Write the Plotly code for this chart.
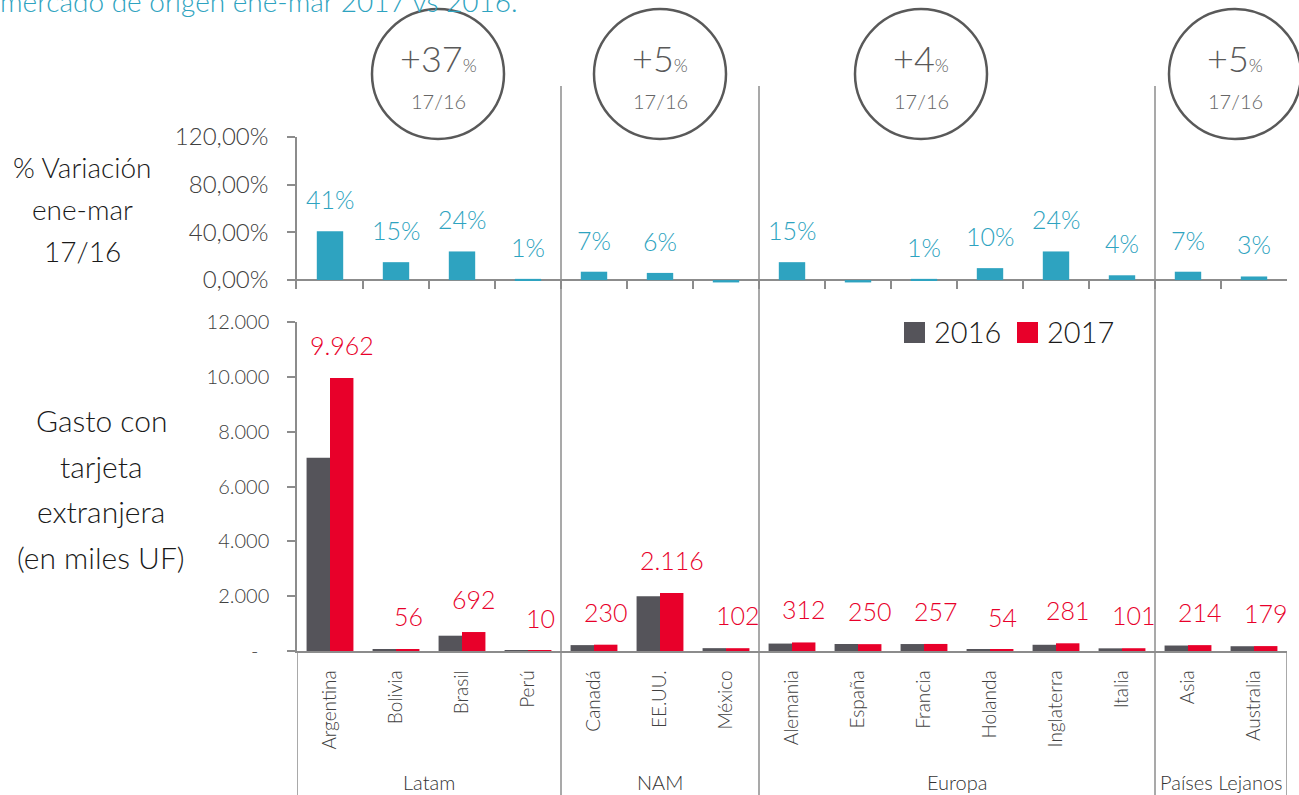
import plotly.graph_objects as go

# ---------- data ----------
countries = ["Argentina", "Bolivia", "Brasil", "Perú", "Canadá", "EE.UU.", "México",
             "Alemania", "España", "Francia", "Holanda", "Inglaterra", "Italia",
             "Asia", "Australia"]
regions = ["Latam", "NAM", "Europa", "Países Lejanos"]
region_sizes = [4, 3, 6, 2]
region_growth = ["+37", "+5", "+4", "+5"]

variacion = [41, 15, 24, 1, 7, 6, -2, 15, -2, 1, 10, 24, 4, 7, 3]
variacion_labels = ["41%", "15%", "24%", "1%", "7%", "6%", "", "15%", "", "1%",
                    "10%", "24%", "4%", "7%", "3%"]

gasto_2016 = [7050, 49, 558, 10, 215, 1996, 104, 271, 255, 254, 49, 227, 97, 200, 174]
gasto_2017 = [9962, 56, 692, 10, 230, 2116, 102, 312, 250, 257, 54, 281, 101, 214, 179]
gasto_2017_labels = ["9.962", "56", "692", "10", "230", "2.116", "102", "312", "250",
                     "257", "54", "281", "101", "214", "179"]

pct_ticks = [0, 40, 80, 120]
pct_ticktext = ["0,00%", "40,00%", "80,00%", "120,00%"]
gasto_ticks = [0, 2000, 4000, 6000, 8000, 10000, 12000]
gasto_ticktext = ["-\u00a0\u00a0", "2.000", "4.000", "6.000", "8.000", "10.000", "12.000"]

# ---------- styling ----------
W, H = 1299, 795
FONT = "Lato"
TEAL = "#2EA3C0"
RED = "#E8002A"
DARK = "#55545A"
AXIS = "#8C8C8C"
CIRCLE = "#595959"


def px(x):
    return x / W


def py(y):
    return 1 - y / H


def text_at(x, y, text, size, color, weight=300, **kw):
    """Free text placed in figure pixels (top-left origin)."""
    fig.add_annotation(x=px(x), y=py(y), xref="paper", yref="paper", text=text,
                       showarrow=False, xanchor=kw.pop("xanchor", "center"),
                       yanchor="middle",
                       font=dict(family=FONT, size=size, color=color, weight=weight), **kw)


fig = go.Figure()

fig.add_trace(go.Bar(x=countries, y=variacion, xaxis="x", yaxis="y", width=0.4,
                     marker=dict(color=TEAL, line_width=0), showlegend=False))
fig.add_trace(go.Bar(x=countries, y=gasto_2016, xaxis="x2", yaxis="y2", name="2016",
                     marker=dict(color=DARK, line_width=0), showlegend=False))
fig.add_trace(go.Bar(x=countries, y=gasto_2017, xaxis="x2", yaxis="y2", name="2017",
                     marker=dict(color=RED, line_width=0), showlegend=False))

xdom = [px(297), px(1287)]

fig.update_layout(
    width=W, height=H,
    margin=dict(l=0, r=0, t=0, b=0, autoexpand=False),
    paper_bgcolor="white", plot_bgcolor="white",
    barmode="group", bargap=0.29, bargroupgap=0,
    font=dict(family=FONT, color="#404040"),
    xaxis=dict(domain=xdom, anchor="y", type="category", categoryorder="array",
               categoryarray=countries, range=[-0.5, 14.5], tickson="boundaries",
               ticks="inside", ticklen=9, tickwidth=1.5, tickcolor=AXIS,
               showticklabels=False, showline=False, showgrid=False, zeroline=False,
               automargin=False),
    yaxis=dict(domain=[py(289), py(137)], anchor="x", range=[-7.5, 120],
               tickvals=pct_ticks, ticktext=pct_ticktext, ticks="outside", ticklen=8,
               tickwidth=1.5, tickcolor=AXIS, showline=True, linecolor=AXIS,
               linewidth=1.5, zeroline=True, zerolinecolor=AXIS, zerolinewidth=1.5,
               showgrid=False, ticklabelstandoff=14, automargin=False,
               tickfont=dict(family=FONT, size=24, color="#404040", weight=300)),
    xaxis2=dict(domain=xdom, anchor="y2", type="category", categoryorder="array",
                categoryarray=countries, range=[-0.5, 14.5], ticks="",
                showline=True, linecolor=AXIS, linewidth=1.5, showgrid=False,
                zeroline=False, tickangle=-90, ticklabelstandoff=10, automargin=False,
                tickfont=dict(family=FONT, size=19, color="#404040", weight=300)),
    yaxis2=dict(domain=[py(651), py(322)], anchor="x2", range=[0, 12000],
                tickvals=gasto_ticks, ticktext=gasto_ticktext, ticks="outside",
                ticklen=8, tickwidth=1.5, tickcolor=AXIS, showline=True,
                linecolor=AXIS, linewidth=1.5, zeroline=False, showgrid=False,
                ticklabelstandoff=14, automargin=False,
                tickfont=dict(family=FONT, size=20, color="#404040", weight=300)),
)

# data labels
for c, v, lab in zip(countries, variacion, variacion_labels):
    if lab:
        fig.add_annotation(x=c, y=v, xref="x", yref="y", text=lab, showarrow=False,
                           xanchor="center", yanchor="middle", yshift=32,
                           font=dict(family=FONT, size=25, color=TEAL, weight=300))
for c, v, lab in zip(countries, gasto_2017, gasto_2017_labels):
    fig.add_annotation(x=c, y=v, xref="x2", yref="y2", text=lab, showarrow=False,
                       xanchor="center", yanchor="middle", yshift=33, xshift=12,
                       font=dict(family=FONT, size=25, color=RED, weight=300))

# region separators and labels
start = 0
bounds = [-0.5]
for name, n in zip(regions, region_sizes):
    mid = start + (n - 1) / 2
    fig.add_annotation(x=mid, y=py(782), xref="x2", yref="paper", text=name,
                       showarrow=False, xanchor="center", yanchor="middle",
                       font=dict(family=FONT, size=20, color="#333333", weight=300))
    start += n
    bounds.append(start - 0.5)
for b in bounds:
    top = py(651) if b in (bounds[0], bounds[-1]) else py(86)
    fig.add_shape(type="line", xref="x2", yref="paper", x0=b, x1=b, y0=0, y1=top,
                  line=dict(color=AXIS, width=1.5))

# growth circles
circle_cx = [438, 660, 921, 1235]
for cx, g in zip(circle_cx, region_growth):
    fig.add_shape(type="circle", xref="paper", yref="paper",
                  x0=px(cx - 66), x1=px(cx + 66), y0=py(139), y1=py(9),
                  line=dict(color=CIRCLE, width=2.5))
    text_at(cx, 58, f"{g}<span style='font-size:18px'>%</span>", 36, CIRCLE)
    text_at(cx, 101, "17/16", 20, "#666666")

# legend
for x0, name, col in [(904, "2016", DARK), (1017, "2017", RED)]:
    fig.add_shape(type="rect", xref="paper", yref="paper", x0=px(x0), x1=px(x0 + 21),
                  y0=py(343), y1=py(322), fillcolor=col, line_width=0)
    text_at(x0 + 28, 331, name, 29, "#1A1A1A", xanchor="left")

# side titles
for i, line in enumerate(["% Variación", "ene-mar", "17/16"]):
    text_at(82, 167 + 42 * i, line, 28, "#1A1A1A")
for i, line in enumerate(["Gasto con", "tarjeta", "extranjera", "(en miles UF)"]):
    text_at(101, 420 + 45.5 * i, line, 30, "#1A1A1A")

# title, cut off by the top edge like in the source image
text_at(-2, 1, "mercado de origen ene-mar 2017 vs 2016.", 28, TEAL, xanchor="left")

fig.write_html("out.html", config={"displayModeBar": False},
               post_script="document.body.style.margin='0';")
